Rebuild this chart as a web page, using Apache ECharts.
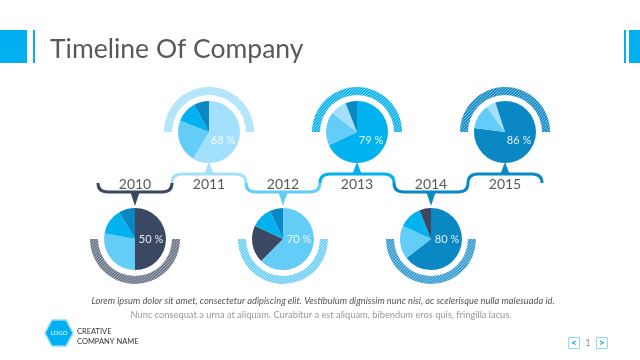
<!DOCTYPE html>
<html><head><meta charset="utf-8">
<script src="https://cdn.jsdelivr.net/npm/echarts@6/dist/echarts.min.js"></script>
<style>html,body{margin:0;padding:0;background:#fff}#c{width:640px;height:360px}</style>
</head><body><div id="c"></div>
<script>
// ---- data ----
const years = ['2010', '2011', '2012', '2013', '2014', '2015'];
const percentLabels = ['50 %', '68 %', '70 %', '79 %', '80 %', '86 %'];
const slices2010 = [50, 28, 13.5, 8.5];
const slices2011 = [58.5, 22.5, 11, 8];
const slices2012 = [62.5, 19.5, 11, 7];
const slices2013 = [68, 17.5, 8.5, 6];
const slices2014 = [64.5, 17.5, 12, 6];
const slices2015 = [77, 13, 5, 5];
const titleText = 'Timeline Of Company';
const bodyLine1 = 'Lorem ipsum dolor sit amet, consectetur adipiscing elit. Vestibulum dignissim nunc nisi, ac scelerisque nulla malesuada id.';
const bodyLine2 = 'Nunc consequat a urna at aliquam. Curabitur a est aliquam, bibendum eros quis, fringilla lacus.';
const logoText = 'LOGO';
const companyLines = ['CREATIVE', 'COMPANY NAME'];
const pageNumber = '1';

// ---- styles ----
const NAVY = '#3b4862', DARK = '#0a88c3', CYAN = '#00b2f0', LIGHT = '#63cdf8', VLIGHT = '#a3e0fb';
const allSlices = [slices2010, slices2011, slices2012, slices2013, slices2014, slices2015];
const sliceColors = [
  [NAVY, LIGHT, CYAN, DARK],
  [VLIGHT, LIGHT, CYAN, DARK],
  [LIGHT, NAVY, CYAN, DARK],
  [CYAN, LIGHT, VLIGHT, DARK],
  [DARK, LIGHT, CYAN, NAVY],
  [DARK, LIGHT, VLIGHT, DARK]
];
const lineColors = [NAVY, VLIGHT, LIGHT, CYAN, DARK, DARK];
const ringPairs = [
  ['#6e788b', '#a6acb9'],
  ['#a8e1fb', '#cdeefd'],
  ['#70d0f8', '#b2e6fb'],
  ['#10b5f0', '#7dd3f6'],
  ['#3a9dcf', '#8cc6e4'],
  ['#1b8fc7', '#79bbdf']
];
function hatch(dark, light) {
  const c = document.createElement('canvas');
  c.width = 3; c.height = 3;
  const g = c.getContext('2d');
  g.fillStyle = dark; g.fillRect(0, 0, 3, 3);
  g.fillStyle = light;
  for (let y = 0; y < 3; y++) for (let x = 0; x < 3; x++) if ((x + y) % 3 === 0) g.fillRect(x, y, 1, 1);
  return { image: c, repeat: 'repeat' };
}

const X0 = 135, DX = 74, YTOP = 132, YBOT = 239, R = 31;
const series = [];
const graphics = [];
years.forEach((yr, i) => {
  const cx = X0 + DX * i;
  const top = i % 2 === 1;
  const cy = top ? YTOP : YBOT;
  series.push({
    type: 'pie', center: [cx, cy], radius: [37, 45], startAngle: top ? 180 : 0, clockwise: true,
    silent: true, animation: false, label: { show: false }, labelLine: { show: false },
    itemStyle: { borderWidth: 0 },
    data: [{ value: 1, itemStyle: { color: hatch(ringPairs[i][0], ringPairs[i][1]) } },
           { value: 1, itemStyle: { color: 'rgba(0,0,0,0)' } }]
  });
  series.push({
    type: 'pie', center: [cx, cy], radius: [0, R], startAngle: 90, clockwise: true,
    silent: true, animation: false, label: { show: false }, labelLine: { show: false },
    itemStyle: { borderWidth: 0 },
    data: allSlices[i].map((v, k) => ({ value: v, itemStyle: { color: sliceColors[i][k] } }))
  });
  // connector
  const xL = cx - 37, xR = cx + 37, y = top ? 174 : 192, ym = 183;
  const st = { fill: null, stroke: lineColors[i], lineWidth: 3 };
  graphics.push({ type: 'bezierCurve', z: 5, shape: { x1: xL, y1: ym, cpx1: xL, cpy1: y, x2: xL + 10, y2: y }, style: st });
  graphics.push({ type: 'line', z: 5, shape: { x1: xL + 10, y1: y, x2: xR - 10, y2: y }, style: st });
  graphics.push({ type: 'bezierCurve', z: 5, shape: { x1: xR - 10, y1: y, cpx1: xR, cpy1: y, x2: xR, y2: ym }, style: st });
  graphics.push({
    type: 'polygon', z: 5,
    shape: { points: top ? [[cx - 5, 175], [cx + 5, 175], [cx, 162]] : [[cx - 5, 191], [cx + 5, 191], [cx, 206]] },
    style: { fill: lineColors[i] }
  });
  graphics.push({
    type: 'text', z: 10, x: cx, y: 184.5,
    style: { text: yr, fill: '#595959', font: '14px Lato', align: 'center', verticalAlign: 'middle' }
  });
  graphics.push({
    type: 'text', z: 100, x: cx + (top ? 14 : 16), y: cy + (top ? 8 : 0),
    style: { text: percentLabels[i], fill: 'rgba(255,255,255,0.88)', font: '11px Lato', align: 'center', verticalAlign: 'middle' }
  });
});

// header
graphics.push({ type: 'rect', shape: { x: 0, y: 30, width: 27, height: 33 }, style: { fill: '#00b0f0' } });
graphics.push({ type: 'rect', shape: { x: 33, y: 30, width: 2, height: 33 }, style: { fill: '#00b0f0' } });
graphics.push({ type: 'rect', shape: { x: 624, y: 30, width: 2, height: 33 }, style: { fill: '#00b0f0' } });
graphics.push({ type: 'rect', shape: { x: 629, y: 30, width: 11, height: 33 }, style: { fill: '#00b0f0' } });
graphics.push({ type: 'text', x: 50, y: 49, style: { text: titleText, fill: '#595959', font: '26.5px Lato', align: 'left', verticalAlign: 'middle' } });
// body text
graphics.push({ type: 'text', x: 323, y: 301, style: { text: bodyLine1, fill: '#555', font: 'italic 9.3px Lato', align: 'center', verticalAlign: 'middle' } });
graphics.push({ type: 'text', x: 321, y: 315, style: { text: bodyLine2, fill: '#999', font: '9.3px Lato', align: 'center', verticalAlign: 'middle' } });
// logo
graphics.push({ type: 'polygon', shape: { points: [[45, 333], [52, 320], [66, 320], [73, 333], [66, 346], [52, 346]] }, style: { fill: '#00b0f0', stroke: '#8fdcf9', lineWidth: 1.5 } });
graphics.push({ type: 'text', x: 59, y: 333, style: { text: logoText, fill: '#fff', font: '6px Lato', align: 'center', verticalAlign: 'middle' } });
graphics.push({ type: 'text', x: 77, y: 332, style: { text: companyLines[0], fill: '#333', font: '7.5px Lato', align: 'left', verticalAlign: 'middle' } });
graphics.push({ type: 'text', x: 77, y: 342, style: { text: companyLines[1], fill: '#333', font: '7.5px Lato', align: 'left', verticalAlign: 'middle' } });
// pager
graphics.push({ type: 'rect', shape: { x: 568.5, y: 337.5, width: 11, height: 11 }, style: { fill: null, stroke: '#8fdcf9', lineWidth: 1 } });
graphics.push({ type: 'text', x: 574, y: 343, style: { text: '<', fill: '#00a6e8', font: 'bold 10px Lato', align: 'center', verticalAlign: 'middle' } });
graphics.push({ type: 'text', x: 588, y: 343, style: { text: pageNumber, fill: '#999', font: '10px Lato', align: 'center', verticalAlign: 'middle' } });
graphics.push({ type: 'rect', shape: { x: 596.5, y: 337.5, width: 11, height: 11 }, style: { fill: null, stroke: '#8fdcf9', lineWidth: 1 } });
graphics.push({ type: 'text', x: 602, y: 343, style: { text: '>', fill: '#00a6e8', font: 'bold 10px Lato', align: 'center', verticalAlign: 'middle' } });

const chart = echarts.init(document.getElementById('c'), null, { renderer: 'canvas' });
chart.setOption({ backgroundColor: '#fff', animation: false, series: series, graphic: { elements: graphics } });
</script></body></html>
